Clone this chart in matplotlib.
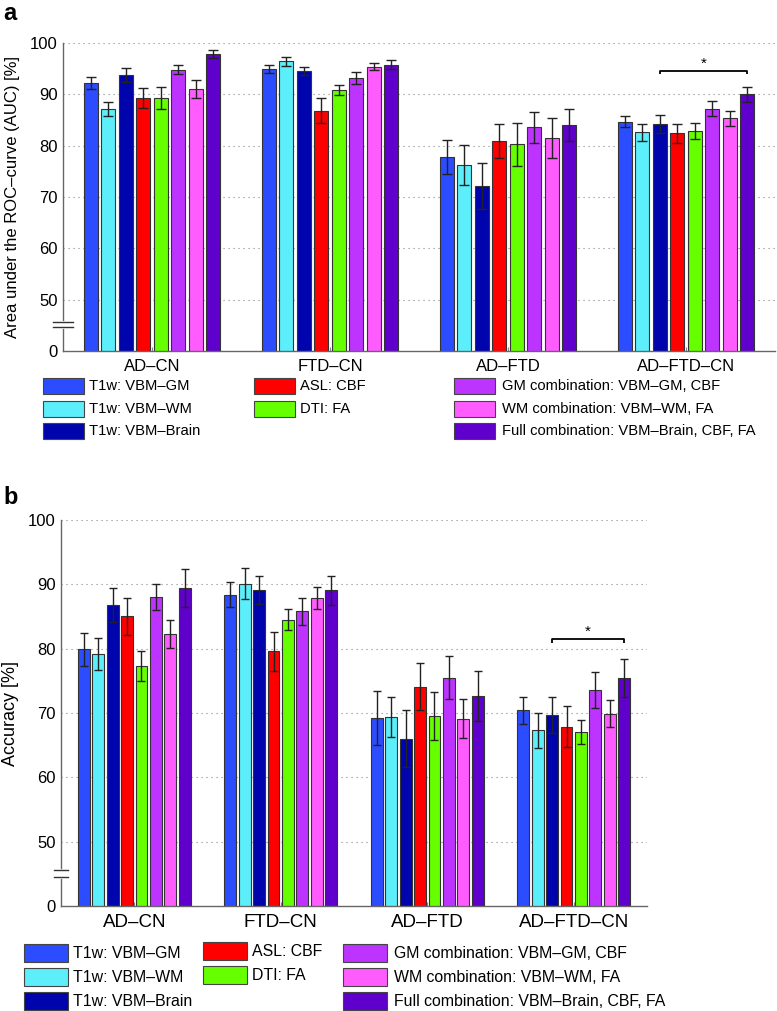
import matplotlib
matplotlib.use("Agg")
import matplotlib.pyplot as plt
from matplotlib.patches import Rectangle
import numpy as np

plt.rcParams['font.family'] = ['Liberation Sans', 'DejaVu Sans']

# ---------------- data ----------------
categories = ["AD–CN", "FTD–CN", "AD–FTD", "AD–FTD–CN"]
series_labels = ["T1w: VBM–GM", "T1w: VBM–WM", "T1w: VBM–Brain",
                 "ASL: CBF", "DTI: FA",
                 "GM combination: VBM–GM, CBF", "WM combination: VBM–WM, FA",
                 "Full combination: VBM–Brain, CBF, FA"]

# AUC [%] per series (one value per category)
auc_vbm_gm    = [92.2, 94.9, 77.8, 84.7]
auc_vbm_wm    = [87.2, 96.4, 76.3, 82.6]
auc_vbm_brain = [93.8, 94.6, 72.1, 84.2]
auc_asl_cbf   = [89.3, 86.8, 80.9, 82.4]
auc_dti_fa    = [89.3, 90.8, 80.3, 82.9]
auc_gm_comb   = [94.8, 93.2, 83.6, 87.2]
auc_wm_comb   = [91.0, 95.4, 81.4, 85.3]
auc_full_comb = [97.9, 95.8, 84.1, 90.0]

auc_err_vbm_gm    = [1.2, 0.8, 3.4, 1.0]
auc_err_vbm_wm    = [1.4, 0.85, 3.9, 1.65]
auc_err_vbm_brain = [1.4, 0.8, 4.45, 1.7]
auc_err_asl_cbf   = [1.95, 2.4, 3.25, 1.9]
auc_err_dti_fa    = [2.2, 1.0, 4.2, 1.6]
auc_err_gm_comb   = [0.9, 1.15, 3.0, 1.45]
auc_err_wm_comb   = [1.7, 0.75, 3.9, 1.5]
auc_err_full_comb = [0.8, 0.8, 3.1, 1.4]

# Accuracy [%] per series
acc_vbm_gm    = [79.9, 88.4, 69.2, 70.4]
acc_vbm_wm    = [79.2, 90.1, 69.4, 67.3]
acc_vbm_brain = [86.8, 89.1, 66.0, 69.7]
acc_asl_cbf   = [85.0, 79.6, 74.1, 67.9]
acc_dti_fa    = [77.3, 84.5, 69.5, 67.0]
acc_gm_comb   = [88.0, 85.8, 75.5, 73.6]
acc_wm_comb   = [82.3, 87.9, 69.1, 69.9]
acc_full_comb = [89.4, 89.1, 72.7, 75.4]

acc_err_vbm_gm    = [2.55, 1.95, 4.15, 2.1]
acc_err_vbm_wm    = [2.5, 2.45, 3.15, 2.7]
acc_err_vbm_brain = [2.7, 2.2, 4.4, 2.85]
acc_err_asl_cbf   = [2.9, 3.0, 3.6, 3.2]
acc_err_dti_fa    = [2.35, 1.65, 3.7, 1.85]
acc_err_gm_comb   = [2.05, 2.05, 3.3, 2.85]
acc_err_wm_comb   = [2.15, 1.75, 3.0, 2.1]
acc_err_full_comb = [3.0, 2.25, 3.9, 2.95]

# significance bracket: category index, first/last series index, level
sig_auc = (3, 2, 7, 94.5)
sig_acc = (3, 2, 7, 81.45)

y_ticks = [40, 50, 60, 70, 80, 90, 100]
y_ticklabels = ["0", "50", "60", "70", "80", "90", "100"]

# ---------------- style ----------------
colors = ["#2b4cff", "#5ceefa", "#0004ad", "#ff0000", "#66ff00",
          "#bd33ff", "#ff5cff", "#5f00cc"]

auc_vals = [auc_vbm_gm, auc_vbm_wm, auc_vbm_brain, auc_asl_cbf, auc_dti_fa,
            auc_gm_comb, auc_wm_comb, auc_full_comb]
auc_errs = [auc_err_vbm_gm, auc_err_vbm_wm, auc_err_vbm_brain, auc_err_asl_cbf,
            auc_err_dti_fa, auc_err_gm_comb, auc_err_wm_comb, auc_err_full_comb]
acc_vals = [acc_vbm_gm, acc_vbm_wm, acc_vbm_brain, acc_asl_cbf, acc_dti_fa,
            acc_gm_comb, acc_wm_comb, acc_full_comb]
acc_errs = [acc_err_vbm_gm, acc_err_vbm_wm, acc_err_vbm_brain, acc_err_asl_cbf,
            acc_err_dti_fa, acc_err_gm_comb, acc_err_wm_comb, acc_err_full_comb]

W, H = 777, 1011
fig = plt.figure(figsize=(W / 100, H / 100), dpi=100)

slot = 0.0983
bw = 0.081
x = np.arange(1, len(categories) + 1)


def px_rect(l, r, t, b):
    return [l / W, 1 - b / H, (r - l) / W, (b - t) / H]


def draw_panel(ax, vals, errs, sig, ylabel, ylab_size, cat_size, capsize, ylab_x,
               brk_px, brk_half):
    n = len(vals)
    for k in range(n):
        xs = x + (k - (n - 1) / 2) * slot
        ax.bar(xs, vals[k], width=bw, color=colors[k], edgecolor="#333333",
               linewidth=0.8, zorder=2)
        ax.errorbar(xs, vals[k], yerr=errs[k], fmt="none", ecolor="#222222",
                    elinewidth=1.0, capsize=capsize, capthick=1.0, zorder=3)
    ax.set_xlim(0.5, len(categories) + 0.5)
    ax.set_ylim(40, 100)
    ax.set_yticks(y_ticks)
    ax.set_yticklabels(y_ticklabels, fontsize=12)
    ax.set_xticks(x)
    ax.set_xticklabels(categories, fontsize=cat_size)
    ax.tick_params(axis="x", direction="in", length=3, color="#888888", pad=6)
    ax.tick_params(axis="y", direction="in", length=0, pad=4)
    for yv in y_ticks[1:]:
        ax.axhline(yv, color="#888888", lw=0.8, ls=(0, (1, 3.5)), zorder=0)
    for s in ["top", "right"]:
        ax.spines[s].set_visible(False)
    for s in ["left", "bottom"]:
        ax.spines[s].set_color("#666666")
        ax.spines[s].set_linewidth(1.0)
    ax.set_ylabel(ylabel, fontsize=ylab_size)
    ax.yaxis.set_label_coords(ylab_x, 0.5)
    # axis break marks
    ax.plot([0, 0], brk_px, transform=ax.get_yaxis_transform(), color="white",
            lw=2.0, clip_on=False, zorder=4)
    for yb in brk_px:
        ax.plot([-brk_half, brk_half], [yb, yb],
                transform=ax.get_yaxis_transform(),
                color="#333333", lw=1.0, clip_on=False, zorder=5)
    # significance bracket
    ci, s0, s1, lvl = sig
    xa = x[ci] + (s0 - (n - 1) / 2) * slot
    xb = x[ci] + (s1 - (n - 1) / 2) * slot
    tick = 0.55
    ax.plot([xa, xa, xb, xb], [lvl - tick, lvl, lvl, lvl - tick], color="black",
            lw=1.3, zorder=4, solid_capstyle="butt")
    ax.text((xa + xb) / 2, lvl + 0.15, "*", ha="center", va="bottom",
            fontsize=11)


# panel a
ax1 = fig.add_axes(px_rect(63, 775, 43, 351))
draw_panel(ax1, auc_vals, auc_errs, sig_auc,
           "Area under the ROC–curve (AUC) [%]", 12, 12, 3.8, -0.060,
           [44.7, 45.6], 0.014)
# panel b
ax2 = fig.add_axes(px_rect(61, 647, 520, 906))
draw_panel(ax2, acc_vals, acc_errs, sig_acc, "Accuracy [%]", 13, 13.5, 3.2,
           -0.072, [44.5, 45.6], 0.012)

fig.text(3 / W, 1 - 14 / H, "a", fontsize=17, fontweight="bold", va="center")
fig.text(3 / W, 1 - 498 / H, "b", fontsize=17, fontweight="bold", va="center")


def draw_legend(cols, rows_y, patch_w, patch_h, txt_size, col_offsets):
    # cols: list of (patch_x, text_x, [series indices])
    for ci, (px, tx, idxs) in enumerate(cols):
        for r, si in enumerate(idxs):
            yc = rows_y[r] + col_offsets[ci]
            fig.patches.append(Rectangle((px / W, 1 - (yc + patch_h / 2) / H),
                                         patch_w / W, patch_h / H,
                                         transform=fig.transFigure,
                                         facecolor=colors[si],
                                         edgecolor="#444444", lw=0.8))
            fig.text(tx / W, 1 - yc / H, series_labels[si], fontsize=txt_size,
                     va="center", ha="left")


draw_legend([(43, 89, [0, 1, 2]), (254, 300, [3, 4]), (454, 502, [5, 6, 7])],
            [386, 409, 431], 41, 16, 10.6, [0, 0, 0])
draw_legend([(24, 73, [0, 1, 2]), (203, 252, [3, 4]), (343, 394, [5, 6, 7])],
            [953, 977, 1001], 44, 18, 11.4, [0, -2, 0])

fig.savefig("out.png", dpi=100)
